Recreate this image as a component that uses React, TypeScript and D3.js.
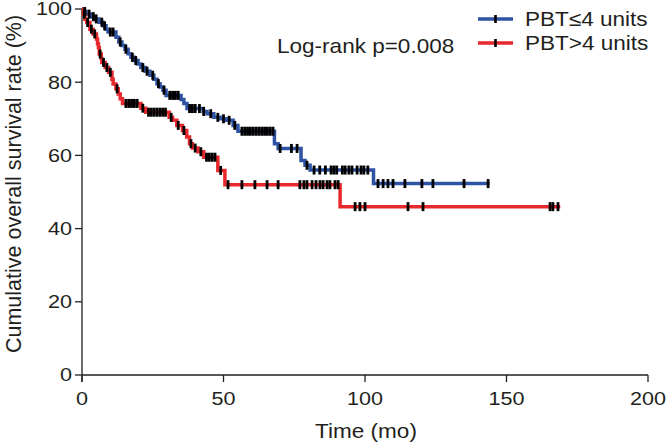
import React from "react";
import * as d3 from "d3";

// Kaplan–Meier steps: [time (mo), survival (%)]
const blueSteps: [number, number][] = [
  [0, 100], [0.7, 99.3], [1.4, 98.6], [3.2, 97.9], [4.6, 97.3], [6, 96.4], [7.4, 95.4],
  [8.5, 94.5], [9.2, 93.7], [12, 92.3], [13, 91], [14.1, 90], [15.2, 89], [16.3, 87.8],
  [17.3, 86.8], [18.4, 85.9], [19.8, 85], [20.8, 84], [22.3, 83], [24, 81.9], [25.4, 80.8],
  [26.5, 79.6], [27.6, 78.7], [28.6, 77.8], [29.7, 76.4], [35, 75.3], [36, 74.2], [37.1, 72.8],
  [42.8, 72.0], [44.2, 71.4], [46.6, 70.4], [48.8, 70.0], [50.9, 69.6], [53.4, 68.2],
  [55.1, 66.6], [68, 63.2], [69.3, 61.9], [77.4, 58.6], [78.8, 57.3], [80.6, 56], [103, 52.3],
];
const blueEnd = 144;
const blueCensor: number[] = [
  1, 2.5, 4, 5, 7, 8, 10, 11, 13.5, 15.5, 17.8, 19, 21.5, 23, 25, 27, 29, 31, 32, 33, 34, 38,
  39, 40, 41.5, 43, 45.5, 48, 50, 52, 54, 56.5, 57.5, 58.5, 59.5, 60.5, 61.5, 62.5, 63.5, 64.5,
  65.5, 66.5, 67.5, 70, 74, 76, 79.5, 82, 84, 86, 88, 89, 90, 92, 93, 94.3, 95.4, 97.2, 98.6,
  99.6, 101, 104.6, 106.4, 108.1, 109.9, 114.1, 120.1, 124, 135, 143.5,
];

const redSteps: [number, number][] = [
  [0, 100], [0.5, 98.6], [1, 97.2], [1.7, 96.3], [2.8, 94.5], [3.9, 93.2], [5.1, 91.8],
  [5.5, 90.5], [5.8, 89.5], [6.1, 87.7], [6.8, 86.5], [7, 85.4], [8.2, 84], [9.4, 82.7],
  [10.6, 80.8], [11, 79.5], [12, 78.2], [12.8, 76.8], [13.5, 75.5], [14.3, 74.2], [20.8, 72.9],
  [22.5, 71.8], [30.8, 70.4], [32, 69.6], [33.5, 68.2], [35.5, 66.8], [37, 65], [38, 63.2],
  [39, 62], [41, 61], [43, 59.5], [48, 55.9], [50.5, 52], [91.2, 46],
];
const redEnd = 169;
const redCensor: number[] = [
  0.8, 2, 3.3, 4.5, 6.4, 7.6, 8.8, 10, 12.4, 15.5, 16.5, 17.5, 18.5, 19.5, 21.5, 23.5, 24.5,
  25.5, 26.5, 27.5, 28.5, 29.5, 31.5, 34, 36, 38.5, 40, 42, 44, 45, 46, 47, 49, 51.6, 56.5,
  61.1, 65.4, 69.3, 77, 78.4, 79.5, 81.3, 82.7, 84.1, 85.2, 86.6, 87.6, 89.4, 90.5, 96.5, 98.2,
  100, 115.2, 120.5, 165.4, 166.4, 168.2,
];

const xTicks = [0, 50, 100, 150, 200];
const yTicks = [0, 20, 40, 60, 80, 100];
const legendLabels = ["PBT\u22644 units", "PBT>4 units"];
const pText = "Log-rank p=0.008";
const xTitle = "Time (mo)";
const yTitle = "Cumulative overall survival rate (%)";

const BLUE = "#2f53a3";
const RED = "#e8282c";
const FONT = "'Liberation Sans', Arial, Helvetica, sans-serif";
const TXT = "#231f20";

function T({
  x,
  y,
  anchor = "start",
  dy,
  fs = 20.5,
  sx = 1.1,
  children,
}: {
  x: number;
  y: number;
  anchor?: string;
  dy?: string;
  fs?: number;
  sx?: number;
  children: React.ReactNode;
}) {
  return (
    <g transform={`translate(${x},${y}) scale(${sx},1)`}>
      <text x={0} y={0} dy={dy} textAnchor={anchor as any} fontSize={fs} fill={TXT}>
        {children}
      </text>
    </g>
  );
}

export default function App() {
  const W = 666, H = 444;
  const x = d3.scaleLinear().domain([0, 200]).range([82, 648]);
  const y = d3.scaleLinear().domain([0, 100]).range([375, 9]);
  const line = d3
    .line<[number, number]>()
    .x((d) => x(d[0]))
    .y((d) => y(d[1]))
    .curve(d3.curveStepAfter);

  const survAt = (steps: [number, number][], t: number) => {
    let s = steps[0][1];
    for (const [tt, v] of steps) if (tt <= t) s = v;
    return s;
  };

  const series = [
    { steps: blueSteps, end: blueEnd, censor: blueCensor, color: BLUE },
    { steps: redSteps, end: redEnd, censor: redCensor, color: RED },
  ];

  return (
    <svg
      width={W}
      height={H}
      style={{ position: "absolute", left: 0, top: 0, background: "#fff" }}
      fontFamily={FONT}
    >
      <rect width={W} height={H} fill="#fff" />
      {/* axes */}
      <line x1={x(0)} x2={x(0)} y1={y(100)} y2={y(0) + 7} stroke={TXT} strokeWidth={1.3} />
      <line x1={x(0)} x2={x(200)} y1={y(0)} y2={y(0)} stroke={TXT} strokeWidth={1.3} />
      {yTicks.map((t) => (
        <g key={"y" + t}>
          <line x1={x(0) - 7} x2={x(0)} y1={y(t)} y2={y(t)} stroke={TXT} strokeWidth={1.3} />
          <T x={72} y={y(t)} dy="0.36em" anchor="end" fs={18} sx={1.2}>
            {t}
          </T>
        </g>
      ))}
      {xTicks.map((t) => (
        <g key={"x" + t}>
          <line x1={x(t)} x2={x(t)} y1={y(0)} y2={y(0) + 7} stroke={TXT} strokeWidth={1.3} />
          <T x={x(t)} y={405} anchor="middle" fs={18} sx={1.2}>
            {t}
          </T>
        </g>
      ))}
      <T x={366} y={438} anchor="middle">
        {xTitle}
      </T>
      <text
        transform={`translate(21,${184}) rotate(-90)`}
        textAnchor="middle"
        fontSize={21.5}
        fill={TXT}
      >
        {yTitle}
      </text>

      {/* curves */}
      {series.map((s, i) => {
        const pts: [number, number][] = [...s.steps, [s.end, s.steps[s.steps.length - 1][1]]];
        return (
          <g key={"s" + i}>
            <path d={line(pts) || ""} fill="none" stroke={s.color} strokeWidth={3.5} />
          </g>
        );
      })}
      {series.map((s, i) => (
        <g key={"c" + i}>
          {s.censor.map((t, j) => (
            <rect
              key={j}
              x={x(t) - 1.4}
              y={y(survAt(s.steps, t)) - 4.5}
              width={2.8}
              height={9}
              fill="#000"
            />
          ))}
        </g>
      ))}

      {/* legend */}
      {legendLabels.map((lab, i) => {
        const ly = 19 + i * 24;
        return (
          <g key={"l" + i}>
            <line x1={478} x2={513} y1={ly} y2={ly} stroke={i === 0 ? BLUE : RED} strokeWidth={3.5} />
            <rect x={494.2} y={ly - 4} width={2.6} height={8} fill="#000" />
            <T x={525} y={ly} dy="0.36em">
              {lab}
            </T>
          </g>
        );
      })}
      <T x={277} y={53}>
        {pText}
      </T>
    </svg>
  );
}
